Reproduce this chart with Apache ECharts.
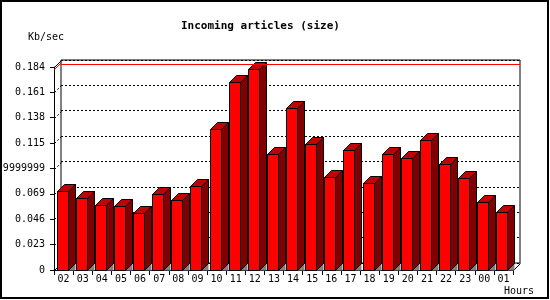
<!DOCTYPE html>
<html>
<head>
<meta charset="utf-8">
<script src="https://cdn.jsdelivr.net/npm/echarts@6/dist/echarts.min.js"></script>
<style>
html,body{margin:0;padding:0;background:#fff;}
#chart{width:550px;height:300px;}
</style>
</head>
<body>
<div id="chart"></div>
<script>
const hours = ['02','03','04','05','06','07','08','09','10','11','12','13','14','15','16','17','18','19','20','21','22','23','00','01'];
const sizes = [0.0716,0.0650,0.0589,0.0577,0.0517,0.0689,0.0632,0.0759,0.1278,0.1700,0.1820,0.1049,0.1466,0.1140,0.0840,0.1088,0.0786,0.1049,0.1013,0.1179,0.0958,0.0831,0.0614,0.0523];
const tickValues = [0,0.023,0.046,0.069,0.092,0.115,0.138,0.161,0.184];
const tickLabels = ['0','0.023','0.046','0.069','0.09199999999999999','0.115','0.138','0.161','0.184'];
const titleText = 'Incoming articles (size)';
const yUnit = 'Kb/sec';
const xUnit = 'Hours';

const FONT = 'DejaVu Sans Mono';
const D = 7; // depth of the 3D effect in px
const maxVal = Math.max.apply(null, sizes);

const chart = echarts.init(document.getElementById('chart'), null, {renderer:'canvas'});

function barItem(params, api){
  const i = api.value(0), v = api.value(1);
  const base = api.coord([i, 0]);
  const top = api.coord([i, v]);
  const band = api.size([1, 0])[0];
  const xl = Math.floor(base[0] - band/2 + 3) + 0.5;
  const xr = xl + 11;
  const yb = Math.round(base[1]) + 0.5;
  const yt = Math.round(top[1]) + 0.5;
  const stroke = {stroke:'#000', lineWidth:1};
  return {
    type:'group',
    children:[
      {type:'polygon', shape:{points:[[xr,yb],[xr+D,yb-D],[xr+D,yb]]}, style:{fill:'#808080'}},
      {type:'polygon', shape:{points:[[xr,yt],[xr+D,yt-D],[xr+D,yb-D],[xr,yb]]}, style:Object.assign({fill:'#800000'}, stroke)},
      {type:'polygon', shape:{points:[[xl,yt],[xl+D,yt-D],[xr+D,yt-D],[xr,yt]]}, style:Object.assign({fill:'#c00000'}, stroke)},
      {type:'rect', shape:{x:xl, y:yt, width:xr-xl, height:yb-yt}, style:Object.assign({fill:'#ff0000'}, stroke)}
    ]
  };
}

const depthData = tickValues.map(v => [0, v, 0]);
depthData.push([0, maxVal, 1]);
depthData.push([hours.length - 1, 0, 2]);

function depthItem(params, api){
  const i = api.value(0), v = api.value(1), kind = api.value(2);
  const p = api.coord([i, v]);
  const band = api.size([1, 0])[0];
  const x0 = Math.round(kind === 2 ? p[0] + band/2 : p[0] - band/2) + 0.5;
  const y0 = Math.round(p[1]) + 0.5;
  let color = '#000', dash = null;
  if (kind === 1) color = '#ff0000';
  else if (kind === 0 && v !== 0 && v !== tickValues[tickValues.length-1]) dash = [2,2];
  return {
    type:'line',
    shape:{x1:x0, y1:y0, x2:x0+D, y2:y0-D},
    style:{stroke:color, lineWidth:1, lineDash:dash}
  };
}

const option = {
  animation:false,
  backgroundColor:'#fff',
  title:{
    text:titleText, left:181, top:21, padding:0,
    textStyle:{fontFamily:FONT, fontWeight:'bold', fontSize:11, color:'#000'}
  },
  grid:[
    {left:54, right:37, top:67, bottom:30, show:false, containLabel:false, outerBoundsMode:'none'},
    {left:61, right:30, top:60, bottom:37, show:true, backgroundColor:'#fff', borderColor:'#000', borderWidth:1, containLabel:false, outerBoundsMode:'none'}
  ],
  xAxis:[
    {type:'category', gridIndex:0, data:hours,
     axisLine:{show:true, lineStyle:{color:'#000', width:1}},
     axisTick:{show:true, length:5, lineStyle:{color:'#000'}},
     axisLabel:{fontFamily:FONT, fontSize:10, color:'#000', margin:4, interval:0},
     splitLine:{show:false}},
    {type:'category', gridIndex:1, data:hours, show:false}
  ],
  yAxis:[
    {type:'value', gridIndex:0, min:0, max:0.184, interval:0.023,
     axisLine:{show:true, lineStyle:{color:'#000', width:1}},
     axisTick:{show:true, length:4, lineStyle:{color:'#000'}},
     axisLabel:{fontFamily:FONT, fontSize:10, color:'#000', margin:9, hideOverlap:false,
       formatter:function(v){ const k = Math.round(v/0.023); return tickLabels[k] !== undefined ? tickLabels[k] : String(v); }},
     splitLine:{show:false}},
    {type:'value', gridIndex:1, min:0, max:0.184, interval:0.023,
     axisLine:{show:false}, axisTick:{show:false}, axisLabel:{show:false},
     splitLine:{show:true, lineStyle:{color:'#000', width:1, type:[2,2]}}}
  ],
  graphic:[
    {type:'text', left:28, top:32, style:{text:yUnit, font:'10px "DejaVu Sans Mono"', fill:'#000'}},
    {type:'text', left:504, top:286, style:{text:xUnit, font:'10px "DejaVu Sans Mono"', fill:'#000'}},
    {type:'rect', shape:{x:1, y:1, width:547, height:297}, style:{fill:'none', stroke:'#000', lineWidth:2}, z:100}
  ],
  series:[
    {type:'line', xAxisIndex:1, yAxisIndex:1, data:sizes, symbol:'none', silent:true,
     lineStyle:{opacity:0}, z:1,
     markLine:{silent:true, symbol:['none','none'], label:{show:false},
       lineStyle:{color:'#ff0000', type:'solid', width:1},
       data:[{type:'max'}]}},
    {type:'custom', xAxisIndex:0, yAxisIndex:0, data:depthData, renderItem:depthItem, silent:true, z:2},
    {type:'custom', xAxisIndex:0, yAxisIndex:0, data:sizes.map((v,i)=>[i,v]), renderItem:barItem, silent:true, z:3}
  ]
};
chart.setOption(option);
</script>
</body>
</html>
